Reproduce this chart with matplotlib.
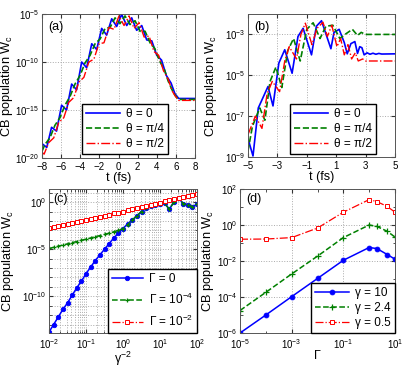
import numpy as np
import matplotlib
matplotlib.use("Agg")
import matplotlib.pyplot as plt
from matplotlib.ticker import LogLocator, FixedLocator, NullFormatter

plt.rcParams['font.family'] = ['Liberation Sans', 'DejaVu Sans']
plt.rcParams['mathtext.fontset'] = 'custom'
plt.rcParams['mathtext.rm'] = 'Liberation Sans'
plt.rcParams['mathtext.it'] = 'Liberation Sans:italic'
plt.rcParams['font.size'] = 9

# ---------------- panel (a) ----------------
a_t_blue = [-8.0, -7.5, -7.0, -6.48, -5.95, -5.43, -4.9, -4.38, -3.85, -3.33, -2.8, -2.28,
            -1.76, -1.24, -0.71, -0.19, 0.33, 0.86, 1.38, 1.9, 2.43, 2.95, 3.48, 4.0, 4.5,
            5.0, 5.5, 5.9, 6.3, 6.6, 7.0, 7.5, 8.0]
a_w_blue = [-18.5, -18.9, -16.8, -17.2, -14.5, -15.0, -12.3, -12.9, -10.0, -10.6, -8.1, -8.7,
            -6.5, -7.2, -5.5, -6.3, -5.05, -6.2, -5.4, -6.7, -6.2, -7.7, -7.8, -9.3, -9.8,
            -11.4, -12.2, -13.3, -13.8, -13.8, -13.8, -13.8, -13.8]
a_t_green = [-8.0, -7.7, -7.17, -6.65, -6.12, -5.6, -5.07, -4.55, -4.02, -3.5, -2.97, -2.45,
             -1.92, -1.4, -0.88, -0.36, 0.16, 0.68, 1.2, 1.73, 2.25, 2.78, 3.3, 3.8, 4.3,
             4.8, 5.2, 5.6, 6.0, 6.3, 7.0, 8.0]
a_w_green = [-19.3, -18.6, -17.9, -16.6, -15.8, -14.5, -13.6, -12.3, -11.4, -10.1, -9.3, -8.1,
             -7.6, -6.5, -6.4, -5.4, -6.0, -5.2, -6.1, -5.7, -6.8, -6.8, -8.0, -8.6, -9.9,
             -10.8, -12.0, -12.9, -13.6, -13.9, -13.9, -13.9]
a_t_red = [-8.0, -7.78, -7.3, -6.77, -6.25, -5.72, -5.2, -4.67, -4.15, -3.62, -3.1, -2.57,
           -2.05, -1.52, -1.0, -0.47, 0.05, 0.58, 1.1, 1.63, 2.15, 2.68, 3.2, 3.7, 4.2,
           4.7, 5.2, 5.6, 5.9, 6.3, 7.0, 8.0]
a_w_red = [-19.4, -19.6, -18.4, -17.9, -16.3, -15.8, -14.2, -13.7, -12.1, -11.6, -10.0, -9.7,
           -8.1, -8.0, -6.4, -6.6, -5.2, -6.2, -5.2, -6.5, -5.9, -7.4, -7.3, -8.9, -9.3,
           -10.9, -11.8, -13.0, -13.5, -14.0, -14.0, -14.0]

# ---------------- panel (b) ----------------
b_t_blue = [-5.0, -4.66, -4.3, -3.64, -3.3, -2.9, -2.5, -2.0, -1.6, -1.25, -0.68, -0.35, 0.0,
            0.64, 0.85, 1.2, 1.55, 1.75, 2.0, 2.27, 2.45, 2.6, 2.75, 2.9, 3.1, 3.3, 3.5, 3.7,
            3.9, 4.1, 5.0]
b_w_blue = [-8.1, -8.95, -6.6, -5.55, -6.5, -4.4, -3.75, -4.9, -3.1, -2.7, -4.0, -2.6, -2.33,
            -3.7, -2.9, -2.75, -3.4, -3.95, -3.45, -3.35, -3.93, -3.6, -3.65, -4.0, -3.9, -3.97,
            -3.92, -3.97, -3.93, -3.96, -3.95]
b_t_green = [-5.0, -4.7, -4.2, -3.85, -3.5, -3.1, -2.7, -2.3, -1.9, -1.45, -1.0, -0.57, -0.1,
             0.3, 0.77, 1.25, 1.6, 2.1, 2.45, 2.7, 3.0, 5.0]
b_w_green = [-8.7, -7.5, -6.6, -7.2, -5.3, -4.6, -5.6, -3.8, -3.2, -4.3, -2.75, -2.43, -3.2,
             -2.6, -2.55, -3.2, -3.0, -2.75, -3.05, -2.9, -3.0, -3.0]
b_t_red = [-5.0, -4.5, -4.05, -3.7, -3.35, -2.85, -2.5, -2.2, -1.7, -1.4, -1.1, -0.65, -0.3,
           0.1, 0.4, 0.7, 1.05, 1.3, 1.55, 1.8, 2.05, 2.3, 2.5, 2.8, 3.0, 5.0]
b_w_red = [-7.9, -7.0, -7.6, -5.9, -5.3, -5.8, -4.3, -3.6, -4.2, -3.0, -2.45, -3.5, -2.7,
           -2.4, -3.1, -2.55, -3.6, -3.2, -4.0, -3.5, -4.2, -3.9, -4.3, -4.2, -4.3, -4.3]

# ---------------- panel (c) ----------------
c_logx = [-2.0, -1.875, -1.75, -1.625, -1.5, -1.375, -1.25, -1.125, -1.0, -0.875, -0.75,
          -0.625, -0.5, -0.375, -0.25, -0.125, 0.0, 0.125, 0.25, 0.375, 0.5, 0.625, 0.75,
          0.875, 1.0, 1.125, 1.25, 1.375, 1.5, 1.625, 1.75, 1.875, 2.0]
c_w_g0 = [-13.8, -13.0, -12.2, -11.4, -10.7, -9.9, -9.1, -8.4, -7.6, -6.9, -6.2, -5.6,
          -5.0, -4.4, -3.8, -3.3, -2.8, -2.3, -1.9, -1.45, -1.0, -0.65, -0.4, -0.28, -0.22,
          -0.1, -0.75, 0.0, 0.45, -0.15, -0.25, -0.5, -0.2]
c_w_g4 = [-4.92, -4.8, -4.68, -4.55, -4.43, -4.3, -4.18, -4.05, -3.93, -3.8, -3.67, -3.55,
          -3.42, -3.3, -3.15, -3.0, -2.8, -2.4, -1.9, -1.45, -1.0, -0.65, -0.4, -0.28, -0.22,
          -0.1, -0.75, 0.0, 0.45, -0.15, -0.25, -0.5, -0.2]
c_w_g2 = [-2.74, -2.63, -2.52, -2.41, -2.3, -2.19, -2.08, -1.97, -1.86, -1.75, -1.64, -1.53,
          -1.42, -1.31, -1.2, -1.1, -1.0, -0.88, -0.76, -0.64, -0.52, -0.4, -0.28, -0.16,
          -0.04, 0.08, 0.2, 0.32, 0.44, 0.56, 0.68, 0.8, 0.92]

# ---------------- panel (d) ----------------
d_gamma = [1e-5, 1e-4, 1e-3, 1e-2, 1e-1, 1.0, 2.0, 5.0, 10.0]
d_w_10 = [-6.0, -5.0, -3.98, -2.97, -1.96, -1.25, -1.31, -1.64, -1.9]
d_w_24 = [-4.75, -3.74, -2.72, -1.73, -0.7, 0.0, -0.08, -0.35, -0.67]
d_w_05 = [-0.79, -0.78, -0.7, -0.17, 0.71, 1.41, 1.3, 1.03, 0.71]

BLUE = (0, 0, 1)
GREEN = (0, 0.5, 0)
RED = (1, 0, 0)
W, H = 415, 368
TICK_FS = 7.0
LAB_FS = 9.2
LEG_FS = 8.5

fig = plt.figure(figsize=(W / 100, H / 100), dpi=100)


def ax_at(l, r, t, b):
    return fig.add_axes([l / W, 1 - b / H, (r - l) / W, (b - t) / H])


def style(ax):
    ax.tick_params(which='both', direction='in', top=True, right=True, labelsize=TICK_FS,
                   color='#333333')
    ax.tick_params(axis='y', which='both', pad=2)
    ax.tick_params(axis='x', which='both', pad=3)
    ax.tick_params(which='major', length=3)
    ax.tick_params(which='minor', length=1.8)
    for s in ax.spines.values():
        s.set_color('#555555')
        s.set_linewidth(0.7)


def put_ylabel(ax, right_px, axis_left_px, axis_w_px):
    # right_px: pixel column of the right (bottom-of-text) side of the rotated label
    ax.set_ylabel('CB population W$_\\mathrm{c}$', fontsize=LAB_FS)
    ax.yaxis.set_label_coords((right_px - axis_left_px) / axis_w_px, 0.5)


grid_kw = dict(color='#aaaaaa', linestyle=':', linewidth=0.7)
leg_kw = dict(fancybox=False, edgecolor='black', framealpha=1, fontsize=LEG_FS,
              handlelength=2.9, borderpad=0.35, labelspacing=0.25, handletextpad=0.5,
              borderaxespad=0.0)

# (a)
ax = ax_at(42, 195, 14, 158)
ax.semilogy(a_t_blue, 10 ** np.array(a_w_blue), '-', color=BLUE, lw=1.2, label='θ = 0')
ax.semilogy(a_t_green, 10 ** np.array(a_w_green), '--', color=GREEN, lw=1.2, label='θ = π/4')
ax.semilogy(a_t_red, 10 ** np.array(a_w_red), '-.', color=RED, lw=1.0, label='θ = π/2')
ax.set_xlim(-8, 8)
ax.set_ylim(1e-20, 1e-5)
ax.set_xticks(range(-8, 9, 2))
ax.set_xticklabels([str(v).replace('-', '−') for v in range(-8, 9, 2)])
ax.yaxis.set_major_locator(FixedLocator([1e-20, 1e-15, 1e-10, 1e-5]))
ax.yaxis.set_minor_locator(FixedLocator([]))
ax.grid(True, which='major', **grid_kw)
style(ax)
ax.set_xlabel('t (fs)', labelpad=0, fontsize=9)
put_ylabel(ax, 15, 42, 153)
ax.text(0.04, 0.95, '(a)', transform=ax.transAxes, va='top', ha='left', fontsize=9)
ax.legend(loc='upper left', bbox_to_anchor=(0.26, 0.375), **leg_kw)

# (b)
ax = ax_at(248, 395, 14, 157)
ax.semilogy(b_t_blue, 10 ** np.array(b_w_blue), '-', color=BLUE, lw=1.2, label='θ = 0')
ax.semilogy(b_t_green, 10 ** np.array(b_w_green), '--', color=GREEN, lw=1.2, label='θ = π/4')
ax.semilogy(b_t_red, 10 ** np.array(b_w_red), '-.', color=RED, lw=1.0, label='θ = π/2')
ax.set_xlim(-5, 5)
ax.set_ylim(1e-9, 1e-2)
ax.set_xticks([-5, -3, -1, 1, 3, 5])
ax.set_xticklabels(['−5', '−3', '−1', '1', '3', '5'])
ax.yaxis.set_major_locator(FixedLocator([1e-9, 1e-7, 1e-5, 1e-3]))
ax.yaxis.set_minor_locator(FixedLocator([]))
ax.grid(True, which='major', **grid_kw)
style(ax)
ax.set_xlabel('t (fs)', labelpad=0, fontsize=9)
put_ylabel(ax, 219, 248, 147)
ax.text(0.04, 0.95, '(b)', transform=ax.transAxes, va='top', ha='left', fontsize=9)
ax.legend(loc='upper left', bbox_to_anchor=(0.286, 0.37), **leg_kw)

# (c)
ax = ax_at(49, 197, 189, 333)
cx = 10 ** np.array(c_logx)
ax.loglog(cx, 10 ** np.array(c_w_g0), '-o', color=BLUE, lw=1.1, ms=3.2, mfc=BLUE,
          mew=0.6, label='Γ = 0')
ax.loglog(cx, 10 ** np.array(c_w_g4), '--+', color=GREEN, lw=1.1, ms=3.5, mew=0.9,
          label='Γ = 10$^{-4}$')
ax.loglog(cx, 10 ** np.array(c_w_g2), '-.s', color=RED, lw=0.9, ms=3.0, mfc='white',
          mew=0.7, label='Γ = 10$^{-2}$')
ax.set_xlim(1e-2, 1e2)
ax.set_ylim(10 ** -13.9, 10 ** 1.4)
ax.xaxis.set_major_locator(LogLocator(base=10, numticks=10))
ax.xaxis.set_minor_locator(LogLocator(base=10, subs=np.arange(2, 10), numticks=20))
ax.yaxis.set_major_locator(FixedLocator([1e-10, 1e-5, 1e0]))
ax.yaxis.set_minor_locator(FixedLocator([10.0 ** k for k in range(-14, 2)]))
ax.xaxis.set_minor_formatter(NullFormatter())
ax.yaxis.set_minor_formatter(NullFormatter())
ax.grid(True, which='both', **grid_kw)
style(ax)
ax.set_xlabel('γ$^{-2}$', labelpad=-1, fontsize=9)
put_ylabel(ax, 16, 49, 148)
ax.text(0.03, 0.97, '(c)', transform=ax.transAxes, va='top', ha='left', fontsize=9)
ax.legend(loc='lower right', bbox_to_anchor=(1.0, 0.0),
          **{**leg_kw, 'labelspacing': 0.55, 'handlelength': 2.6})

# (d)
ax = ax_at(240, 395, 189, 333)
ax.loglog(d_gamma, 10 ** np.array(d_w_10), '-o', color=BLUE, lw=1.1, ms=3.5, mfc=BLUE,
          mew=0.6, label='γ = 10')
ax.loglog(d_gamma, 10 ** np.array(d_w_24), '--+', color=GREEN, lw=1.1, ms=4, mew=0.9,
          label='γ = 2.4')
ax.loglog(d_gamma, 10 ** np.array(d_w_05), '-.s', color=RED, lw=0.9, ms=3.5, mfc='white',
          mew=0.7, label='γ = 0.5')
ax.set_xlim(1e-5, 1e1)
ax.set_ylim(1e-6, 1e2)
ax.xaxis.set_major_locator(FixedLocator([1e-5, 1e-3, 1e-1, 1e1]))
ax.xaxis.set_minor_locator(FixedLocator([1e-4, 1e-2, 1e0]))
ax.yaxis.set_major_locator(FixedLocator([1e-6, 1e-4, 1e-2, 1e0, 1e2]))
ax.yaxis.set_minor_locator(FixedLocator([1e-5, 1e-3, 1e-1, 1e1]))
ax.xaxis.set_minor_formatter(NullFormatter())
ax.yaxis.set_minor_formatter(NullFormatter())
ax.grid(True, which='major', **grid_kw)
style(ax)
ax.set_xlabel('Γ', labelpad=-1, fontsize=9)
put_ylabel(ax, 216, 240, 155)
ax.text(0.04, 0.97, '(d)', transform=ax.transAxes, va='top', ha='left', fontsize=9)
ax.legend(loc='lower right', bbox_to_anchor=(1.0, 0.0), **leg_kw)

fig.savefig('out.png', dpi=100)
